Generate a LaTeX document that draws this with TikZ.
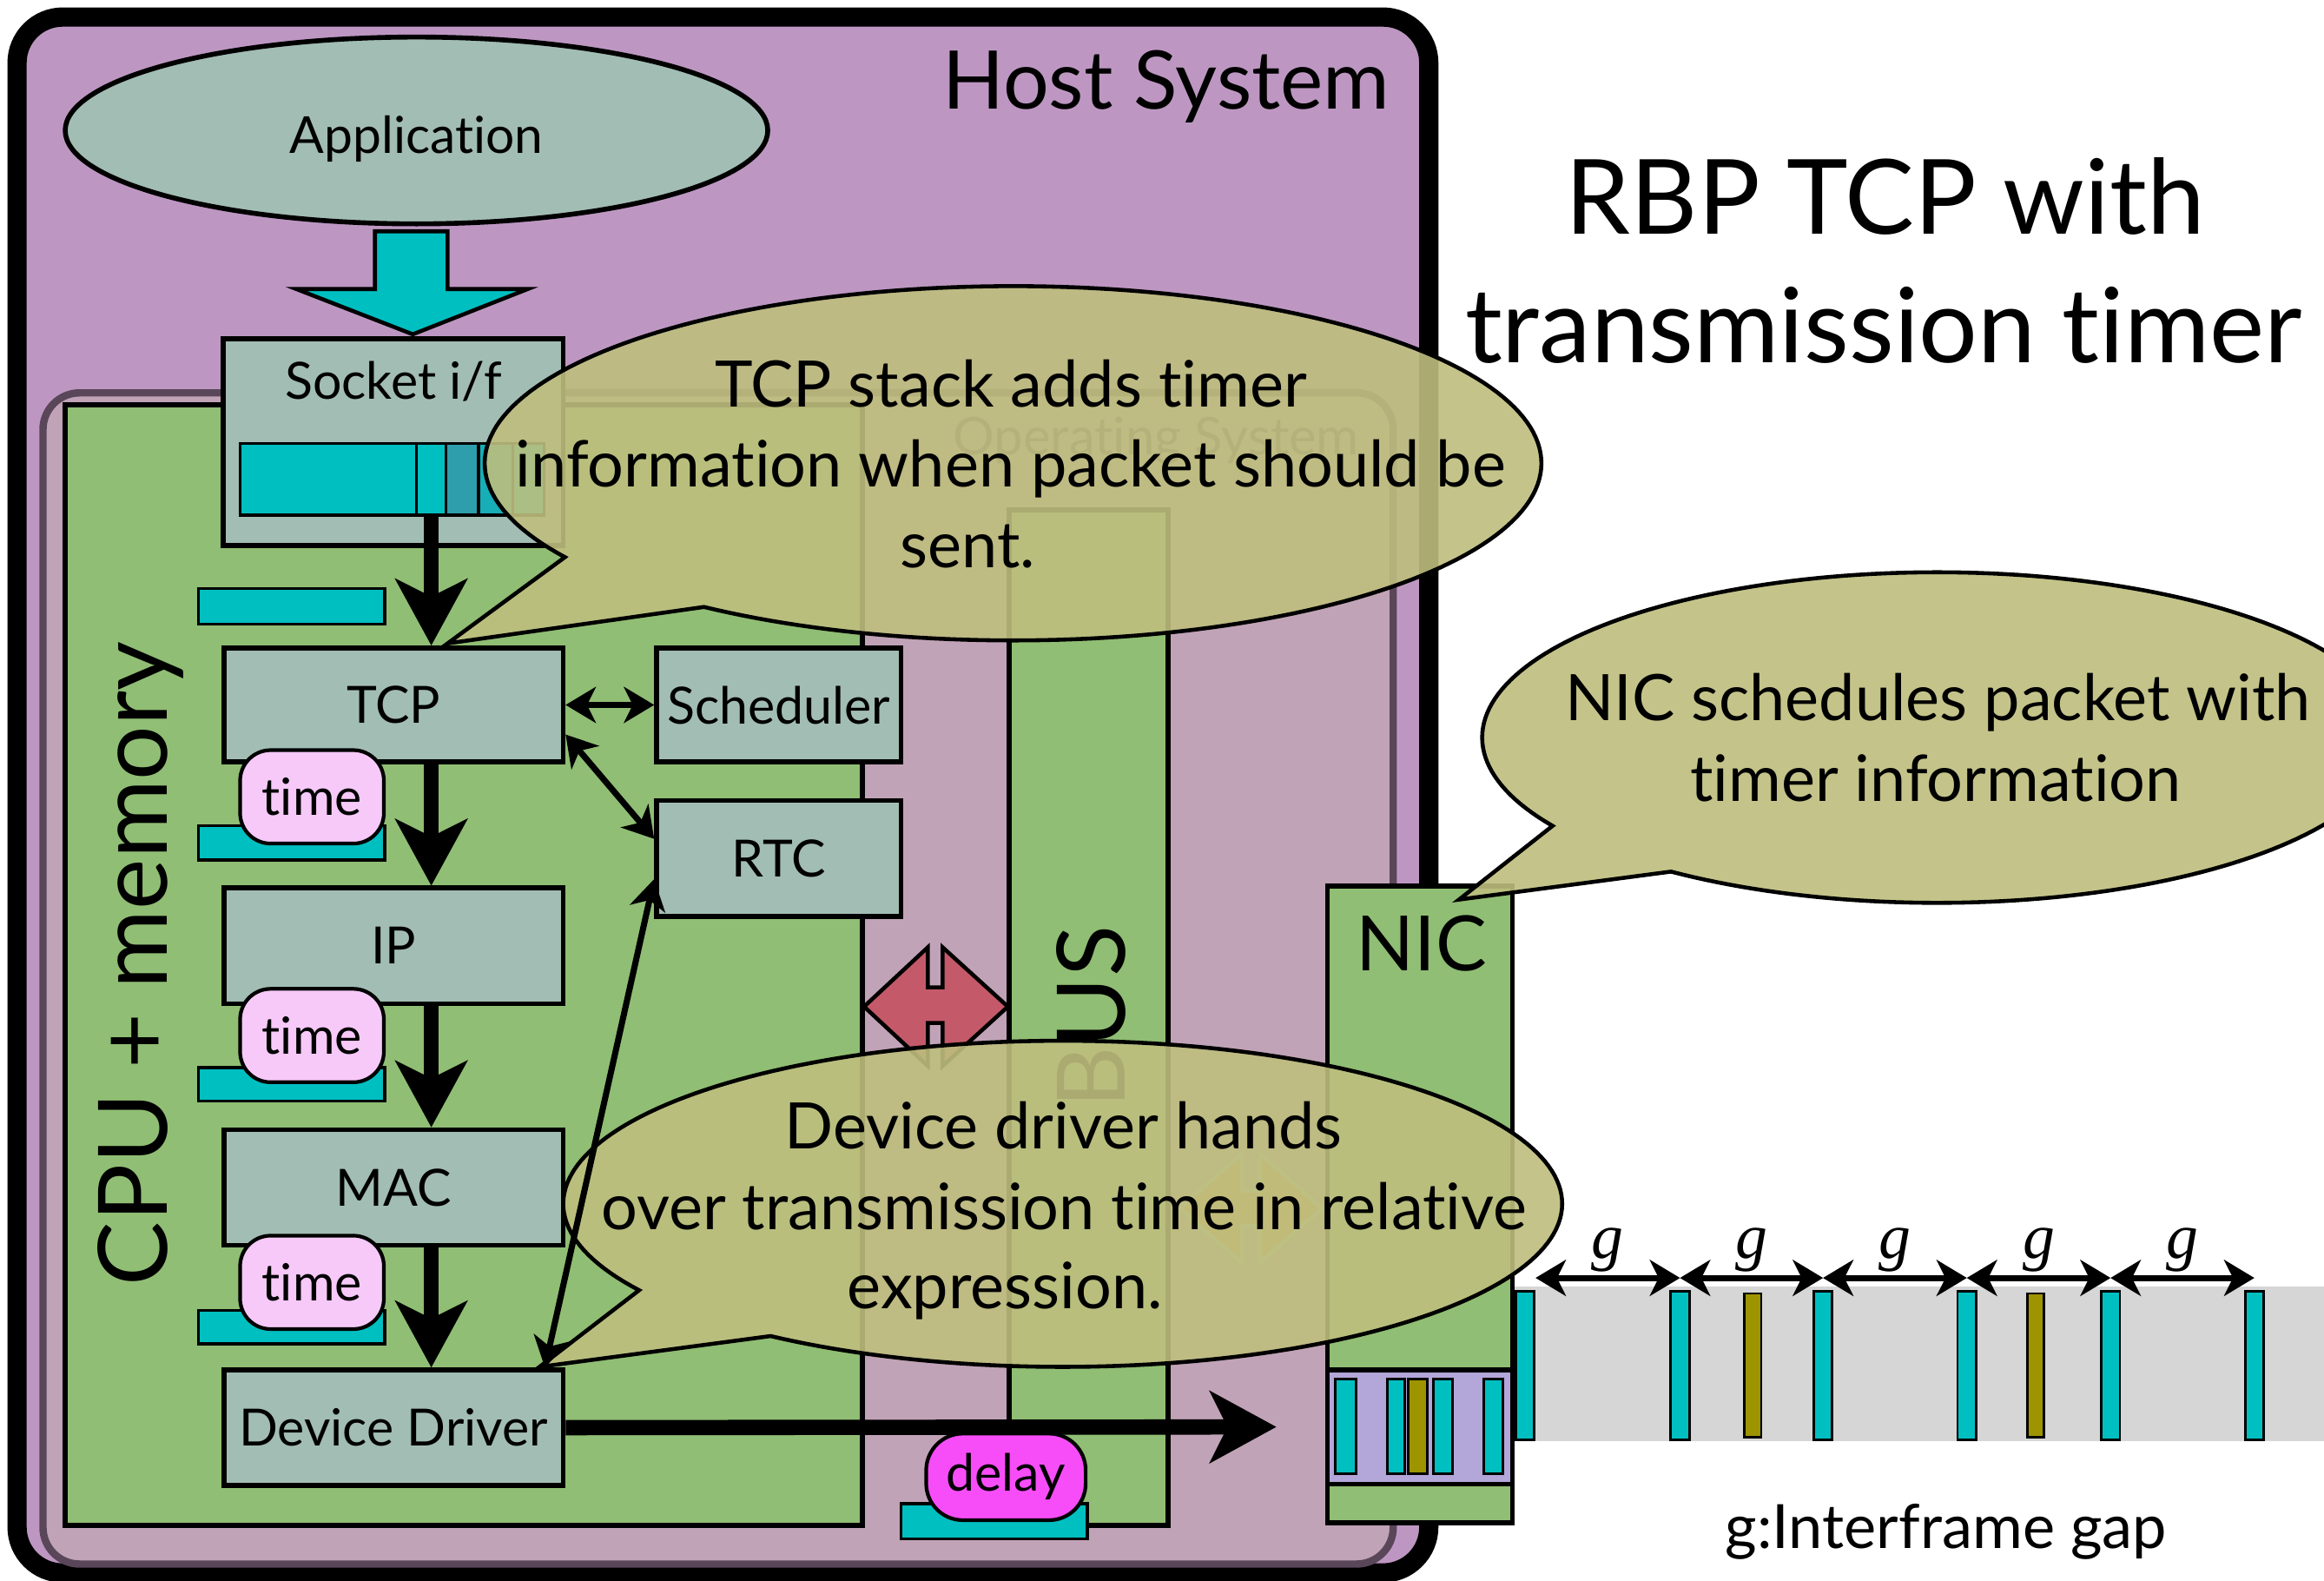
\documentclass[tikz,border=0pt]{standalone}
\usepackage{fontspec}
\setmainfont{Lato}[Ligatures=NoCommon]
\newfontfamily\gapfont{Liberation Serif}
\usetikzlibrary{arrows.meta,shapes.geometric}

\definecolor{hostfill}{HTML}{BD97C2}
\definecolor{osfill}{HTML}{C1A3B7}
\definecolor{osline}{HTML}{594659}
\definecolor{greenfill}{HTML}{90BE74}
\definecolor{boxfill}{HTML}{A2BDB4}
\definecolor{cyanfill}{HTML}{00BFC1}
\definecolor{tealdark}{HTML}{2E9EAB}
\definecolor{tealmid}{HTML}{17AEB8}
\definecolor{pinkfill}{HTML}{F6C9F8}
\definecolor{magentafill}{HTML}{F74DF8}
\definecolor{redarrow}{HTML}{C45A69}
\definecolor{orangearrow}{HTML}{E6A35C}
\definecolor{olivebar}{HTML}{9E9400}
\definecolor{queuefill}{HTML}{B3A6D8}
\definecolor{wiregrey}{HTML}{D6D6D6}
\definecolor{bubblefill}{HTML}{BEBE7E}

\newcommand{\pxu}{0.017066cm}

\tikzset{
  labelfont/.style={font=\fontsize{16.8}{20}\selectfont},
  layerbox/.style={draw=black, line width=1.6pt, fill=boxfill, inner sep=0pt, labelfont},
  greenbox/.style={draw=black, line width=1.6pt, fill=greenfill},
  bufbar/.style={draw=black, line width=1pt, fill=cyanfill},
  timepill/.style={draw=black, line width=1.2pt, fill=pinkfill, rounded corners=10pt,
    inner sep=0pt, minimum width=97*\pxu, minimum height=63*\pxu, labelfont},
  bigarrow/.style={line width=5pt, -{Stealth[length=22pt, width=24pt, inset=6pt, line width=0.5pt]}},
  dbltip/.tip={Stealth[length=10pt, width=12pt, inset=3pt, line width=0.5pt]},
  twoway/.style={line width=2pt, dbltip-dbltip},
  note/.style={draw=black, line width=1.3pt, fill=bubblefill, fill opacity=0.9},
  notetext/.style={font=\fontsize{21}{26}\selectfont, anchor=base, inner sep=0pt},
  packet/.style={draw=black, line width=0.8pt, fill=cyanfill, inner sep=0pt,
    minimum width=12.5*\pxu, minimum height=100*\pxu},
  qbar/.style={draw=black, line width=0.8pt, fill=cyanfill, inner sep=0pt,
    minimum width=13*\pxu, minimum height=64*\pxu},
  glabel/.style={midway, anchor=base, yshift=6.5pt, inner sep=0pt,
    font=\gapfont\itshape\fontsize{21}{24}\selectfont},
}

\begin{document}
\begin{tikzpicture}[x=\pxu, y=-\pxu]
\useasboundingbox (0,0) rectangle (1568,1066);
\clip (0,0) rectangle (1568,1066);
\fill[white] (0,0) rectangle (1568,1066);

% host system frame
\draw[line width=6.3pt, fill=hostfill, rounded corners=15pt] (11.5,11.5) rectangle (964,1061);
\node[anchor=base east, inner sep=0pt, font=\fontsize{26.5}{30}\selectfont] (hostlabel) at (938,73.8) {Host System};

% operating system frame
\draw[draw=osline, line width=2.4pt, fill=osfill, rounded corners=12pt] (29,265) rectangle (940,1055);
\node[anchor=base, inner sep=0pt, text=osline, font=\fontsize{17}{20}\selectfont] (oslabel) at (780,306.7) {Operating System};

% CPU + memory
\draw[greenbox] (44,273) rectangle (582,1029);
\node[rotate=90, anchor=base, inner sep=0pt, font=\fontsize{31.4}{36}\selectfont] (cpulabel) at (113,650) {CPU + memory};

% bus
\draw[greenbox] (681,344) rectangle (788,1029);
\node[rotate=90, anchor=base, inner sep=0pt, font=\fontsize{31}{36}\selectfont] (buslabel) at (759,686) {BUS};

% CPU <-> bus and bus <-> NIC transfer arrows
\draw[fill=redarrow, line width=1.3pt, line join=miter]
  (583,679) -- (626,639) -- (626,666) -- (636,666) -- (636,639) -- (680,679)
  -- (636,719) -- (636,690) -- (626,690) -- (626,719) -- cycle;
\draw[fill=orangearrow, draw=greenfill!60!white, line width=1.3pt, line join=miter]
  (796,815) -- (838,778) -- (838,803) -- (850,803) -- (850,778) -- (892,815)
  -- (850,852) -- (850,827) -- (838,827) -- (838,852) -- cycle;

% delay on the bus
\draw[bufbar] (608,1014.4) rectangle (733.6,1038);
\node[timepill, fill=magentafill, minimum width=107.6*\pxu, minimum height=58.4*\pxu, rounded corners=12pt] (delay) at (678.7,996.2) {delay};

% application
\node[ellipse, draw=black, line width=1.6pt, fill=boxfill, minimum width=474*\pxu, minimum height=126*\pxu, inner sep=0pt] (app) at (281,88) {};
\node[anchor=base, inner sep=0pt, font=\fontsize{16.7}{20}\selectfont] (applabel) at (281,103.3) {Application};
\draw[fill=cyanfill, line width=1.3pt, line join=miter]
  (253,156) -- (302,156) -- (302,195) -- (356,195) -- (278.5,225.5) -- (200,195) -- (253,195) -- cycle;

% socket interface with its buffer
\node[layerbox, minimum width=229.5*\pxu, minimum height=139.5*\pxu] (sock) at (265.25,298.25) {};
\node[anchor=base, inner sep=0pt, labelfont] (socklabel) at (265.6,269.5) {Socket i/f};
\node[inner sep=0pt, minimum width=205*\pxu, minimum height=48.5*\pxu] (sockbuf) at (264.5,323.25) {};
\draw[bufbar] (162,299) rectangle (281,347.5);
\draw[bufbar] (281,299) rectangle (301,347.5);
\draw[bufbar, fill=tealdark] (301,299) rectangle (323,347.5);
\draw[bufbar, fill=tealmid] (323,299) rectangle (346,347.5);
\draw[bufbar] (346,299) rectangle (367,347.5);

% protocol stack
\node[layerbox, minimum width=229*\pxu, minimum height=77*\pxu] (tcp) at (265.5,475.5) {TCP};
\node[layerbox, minimum width=229*\pxu, minimum height=78*\pxu] (ip) at (265.5,638) {IP};
\node[layerbox, minimum width=229*\pxu, minimum height=78*\pxu] (mac) at (265.5,801) {MAC};
\node[layerbox, minimum width=229*\pxu, minimum height=78*\pxu] (dd) at (265.5,963) {Device Driver};
\node[layerbox, minimum width=165*\pxu, minimum height=77*\pxu] (sched) at (525.5,475.5) {Scheduler};
\node[layerbox, minimum width=165*\pxu, minimum height=78*\pxu] (rtc) at (525.5,579) {RTC};

% packet buffers and time stamps
\draw[bufbar] (134,397) rectangle (259.5,421);
\draw[bufbar] (134,557) rectangle (259.5,580);
\draw[bufbar] (134,720) rectangle (259.5,742.6);
\draw[bufbar] (134,884) rectangle (259.5,906.6);
\node[timepill] (time1) at (210.5,537.5) {time};
\node[timepill] (time2) at (210.5,698.5) {time};
\node[timepill] (time3) at (210.5,865) {time};

% the wire with its frames
\fill[wiregrey] (1021,868) rectangle (1580,972);
\node[packet] (w1) at (1029,921) {};
\node[packet] (w2) at (1133.5,921) {};
\node[packet, fill=olivebar, minimum width=11.5*\pxu, minimum height=97*\pxu] (w3) at (1182.5,921) {};
\node[packet] (w4) at (1230,921) {};
\node[packet] (w5) at (1327,921) {};
\node[packet, fill=olivebar, minimum width=11.5*\pxu, minimum height=97*\pxu] (w6) at (1373.5,921) {};
\node[packet] (w7) at (1424,921) {};
\node[packet] (w8) at (1521,921) {};
\coordinate (gy) at (0,862);
\draw[twoway] (w1.east |- gy) -- (w2 |- gy) node[glabel] {g};
\draw[twoway] (w2 |- gy) -- (w4 |- gy) node[glabel] {g};
\draw[twoway] (w4 |- gy) -- (w5 |- gy) node[glabel] {g};
\draw[twoway] (w5 |- gy) -- (w7 |- gy) node[glabel] {g};
\draw[twoway] (w7 |- gy) -- (w8 |- gy) node[glabel] {g};
\node[anchor=base, inner sep=0pt, font=\fontsize{20}{24}\selectfont] (gaplabel) at (1313,1044.2) {g:Interframe gap};

% NIC with its transmit queue
\node[draw=black, line width=1.6pt, fill=greenfill, minimum width=124.8*\pxu, minimum height=429.4*\pxu, inner sep=0pt] (nic) at (958.1,812.3) {};
\node[anchor=base, inner sep=0pt, font=\fontsize{25}{30}\selectfont] (niclabel) at (959,654.6) {NIC};
\node[draw=black, line width=1.6pt, fill=queuefill, minimum width=124.8*\pxu, minimum height=77*\pxu, inner sep=0pt] (nicq) at (958.1,962.5) {};
\node[qbar, minimum width=14*\pxu] (q1) at (908,962) {};
\node[qbar, minimum width=12*\pxu] (q2) at (942,962) {};
\node[qbar, fill=olivebar] (q3) at (956.5,962) {};
\node[qbar] (q4) at (973.5,962) {};
\node[qbar] (q5) at (1007.5,962) {};

% speech bubbles
\filldraw[note] plot[domain=148:485.8, samples=200, variable=\ang]
  ({683.5+356.5*cos(\ang)},{312.5+119.5*sin(\ang)}) -- (302,434) -- cycle;
\node[notetext] (tcpnote1) at (682,274.4) {TCP stack adds timer};
\node[notetext] (tcpnote2) at (682,328.5) {information when packet should be};
\node[notetext] (tcpnote3) at (653,382.7) {sent.};

\filldraw[note] plot[domain=148:485.8, samples=200, variable=\ang]
  ({717+337*cos(\ang)},{812+110*sin(\ang)}) -- (364,922) -- cycle;
\node[notetext] (ddnote1) at (717.5,774.7) {Device driver hands};
\node[notetext] (ddnote2) at (718,829.6) {over transmission time in relative};
\node[notetext] (ddnote3) at (678,882.9) {expression.};

\filldraw[note] plot[domain=147.7:485.8, samples=200, variable=\ang]
  ({1307+307*cos(\ang)},{497.5+111.5*sin(\ang)}) -- (984.4,606.8) -- cycle;
\node[notetext] (nicnote1) at (1307.5,486) {NIC schedules packet with};
\node[notetext] (nicnote2) at (1306,540.7) {timer information};

% data path and control arrows
\coordinate (spine) at (291,0);
\draw[bigarrow] (sockbuf.south -| spine) -- (tcp.north -| spine);
\draw[bigarrow] (tcp.south -| spine) -- (ip.north -| spine);
\draw[bigarrow] (ip.south -| spine) -- (mac.north -| spine);
\draw[bigarrow] (mac.south -| spine) -- (dd.north -| spine);
\draw[bigarrow] (dd.east) -- ([xshift=-16pt]nicq.west);
\draw[twoway] (tcp.east) -- (sched.west);
\draw[twoway] ([yshift=-9.7pt]tcp.east) -- ([yshift=6.4pt]rtc.west);
\draw[twoway] ([xshift=-6.8pt]dd.north east) -- ([yshift=-6.8pt]rtc.west);

% title
\node[anchor=base, inner sep=0pt, font=\fontsize{34}{40}\selectfont] (title1) at (1272,158) {RBP TCP with};
\node[anchor=base, inner sep=0pt, font=\fontsize{34}{40}\selectfont] (title2) at (1271,244.5) {transmission timer};
\end{tikzpicture}
\end{document}
